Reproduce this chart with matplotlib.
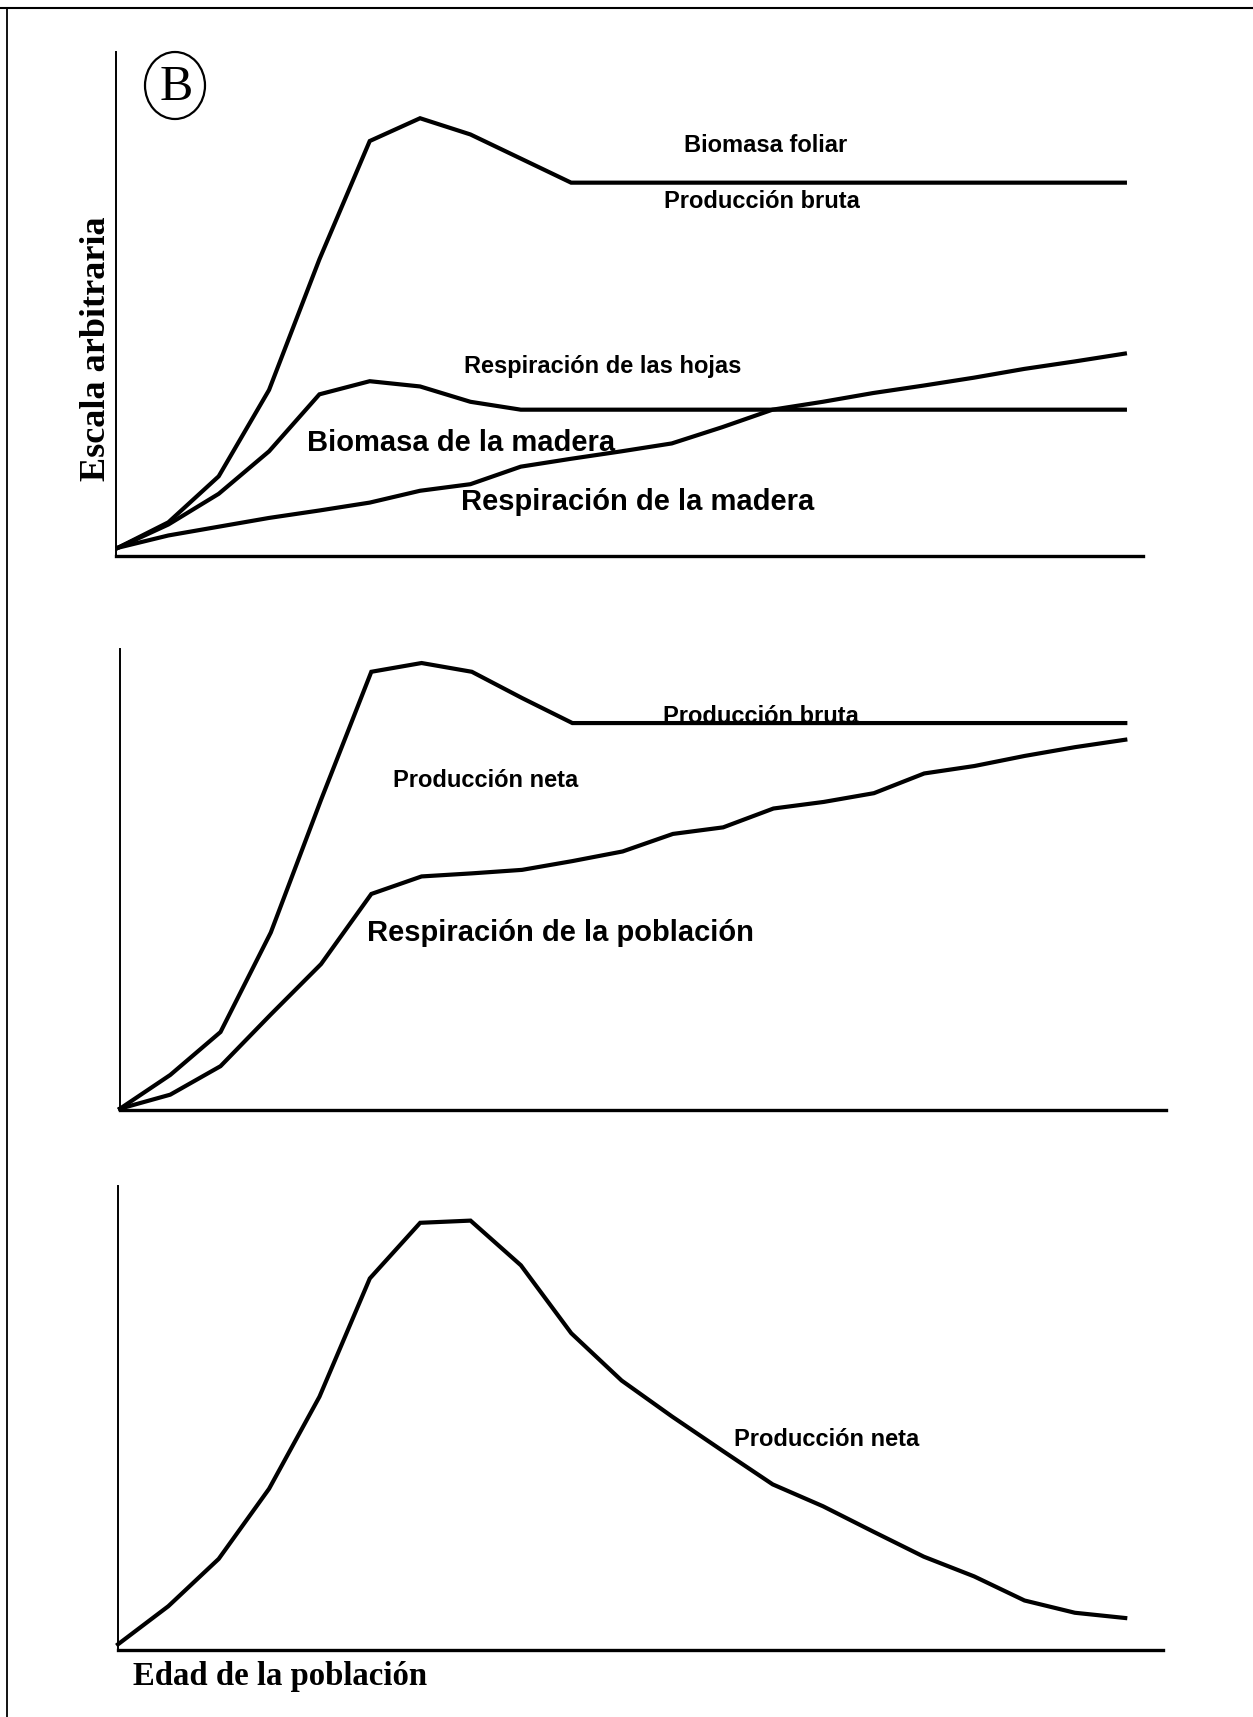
import matplotlib
matplotlib.use("Agg")
import matplotlib.pyplot as plt
from matplotlib import font_manager as fm
from matplotlib.patches import Ellipse
from matplotlib.lines import Line2D

# edad de la poblacion (pasos arbitrarios)
edad = list(range(21))

# panel superior
biomasa_foliar = [2, 7.8, 18.3, 38, 67.8, 94.8, 100, 96.3, 90.8, 85.3,
                  85.3, 85.3, 85.3, 85.3, 85.3, 85.3, 85.3, 85.3, 85.3, 85.3, 85.3]
resp_hojas = [2, 7.3, 14.3, 24, 37, 40, 38.8, 35.3, 33.5, 33.5,
              33.5, 33.5, 33.5, 33.5, 33.5, 33.5, 33.5, 33.5, 33.5, 33.5, 33.5]
resp_madera = [2, 4.8, 6.8, 8.8, 10.5, 12.3, 15, 16.5, 20.5, 22.3,
               24, 25.8, 29.5, 33.5, 35.3, 37.3, 39, 40.8, 42.8, 44.5, 46.3]

# panel medio
prod_bruta = [0.3, 8, 17.8, 40.5, 70.8, 100, 102, 100, 94, 88.3,
              88.3, 88.3, 88.3, 88.3, 88.3, 88.3, 88.3, 88.3, 88.3, 88.3, 88.3]
resp_poblacion = [0.3, 3.5, 10, 21.8, 33.3, 49.3, 53.3, 54, 54.8, 56.8,
                  59, 63, 64.5, 68.8, 70.3, 72.3, 76.8, 78.5, 80.8, 82.8, 84.5]

# panel inferior
prod_neta = [1.3, 10, 20.8, 36.8, 57.8, 84.8, 97.5, 98, 87.8, 72.3,
             61.5, 53.3, 45.5, 37.8, 32.8, 27, 21.3, 16.8, 11.3, 8.5, 7.3]

W, H = 1253, 1717
fig = plt.figure(figsize=(W / 100, H / 100), dpi=100)

FS = 21
SANS = dict(family=['Liberation Sans', 'DejaVu Sans'], weight='bold', fontsize=FS)
# narrow labels: use a narrow face if there is one, else a smaller regular face
installed = {f.name for f in fm.fontManager.ttflist}
if 'Liberation Sans Narrow' in installed:
    NARROW = dict(family=['Liberation Sans Narrow', 'DejaVu Sans'], weight='bold', fontsize=FS)
else:
    NARROW = dict(family=['Liberation Sans', 'DejaVu Sans'], weight='bold', fontsize=17)
SERIF = ['Liberation Serif', 'DejaVu Serif']
LW = 3.0


def make_axes(left, top, right, bottom, xlim, ylim):
    # positions given in pixels of the full picture
    ax = fig.add_axes([left / W, 1 - bottom / H, (right - left) / W, (bottom - top) / H])
    ax.set_xlim(*xlim)
    ax.set_ylim(*ylim)
    for s in ['top', 'right']:
        ax.spines[s].set_visible(False)
    ax.spines['left'].set_linewidth(1.4)
    ax.spines['bottom'].set_linewidth(2.4)
    ax.set_xticks([])
    ax.set_yticks([])
    ax.patch.set_alpha(0)
    return ax


def curve(ax, y):
    ax.plot(edad, y, color='black', lw=LW, solid_joinstyle='miter', clip_on=False)


ax1 = make_axes(115.5, 52.5, 1143, 556.5, (-0.05, 20.36), (0, 115))
curve(ax1, biomasa_foliar)
curve(ax1, resp_hojas)
curve(ax1, resp_madera)
ax1.text(12.86, 93.8, 'Biomasa foliar', ha='center', va='center', **NARROW)
ax1.text(12.8, 81, 'Producción bruta', ha='center', va='center', **NARROW)
ax1.text(9.62, 43.3, 'Respiración de las hojas', ha='center', va='center', **NARROW)
ax1.text(6.81, 25.8, 'Biomasa de la madera', ha='center', va='center', **SANS)
ax1.text(10.32, 12.5, 'Respiración de la madera', ha='center', va='center', **SANS)

ax2 = make_axes(120, 649, 1166, 1110, (0, 20.81), (0, 105.2))
curve(ax2, prod_bruta)
curve(ax2, resp_poblacion)
ax2.text(12.75, 88.3, 'Producción bruta', ha='center', va='baseline', **NARROW)
ax2.text(7.27, 75.3, 'Producción neta', ha='center', va='center', **NARROW)
ax2.text(8.77, 40.5, 'Respiración de la población', ha='center', va='center', **SANS)

ax3 = make_axes(118, 1186, 1163, 1650, (0, 20.75), (0, 105.9))
curve(ax3, prod_neta)
ax3.text(14.08, 48, 'Producción neta', ha='center', va='center', **NARROW)

# titulos de ejes
fig.text(96.4 / W, 1 - 348.3 / H, 'Escala arbitraria', family=SERIF, weight='bold',
         fontsize=26, rotation=90, ha='center', va='center')
fig.text(133 / W, 1 - 1685 / H, 'Edad de la población', family=SERIF, weight='bold',
         fontsize=23.6, ha='left', va='baseline')

# letra B en circulo
fig.patches.append(Ellipse((175 / W, 1 - 85.5 / H), 60 / W, 67 / H, fill=False,
                           lw=1.6, ec='black', transform=fig.transFigure))
fig.text(176 / W, 1 - 88 / H, 'B', family=SERIF, fontsize=36, ha='center', va='center')

# marco de la pagina
fig.add_artist(Line2D([0, 1], [1 - 8 / H, 1 - 8 / H], color='black', lw=1.5, transform=fig.transFigure))
fig.add_artist(Line2D([7 / W, 7 / W], [0, 1 - 8 / H], color='black', lw=1.3, transform=fig.transFigure))

fig.savefig('out.png', dpi=100)
